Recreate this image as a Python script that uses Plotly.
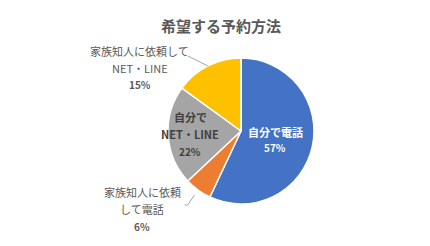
import math
import plotly.graph_objects as go

# ---- data ----
labels = ["自分で電話", "家族知人に依頼して電話", "自分でNET・LINE", "家族知人に依頼してNET・LINE"]
values = [57, 6, 22, 15]
display_lines = [["自分で電話"], ["家族知人に依頼", "して電話"], ["自分で", "NET・LINE"], ["家族知人に依頼して", "NET・LINE"]]
colors = ["#4472C4", "#ED7D31", "#A5A5A5", "#FFC000"]
title_text = "希望する予約方法"

# ---- layout constants (pixels) ----
W, H = 430, 246
CX, CY, R = 241, 131, 73
FONT = "Noto Sans CJK JP, Noto Sans, sans-serif"
GRAY_TXT = "#595959"


def P(px, py):
    return px / W, 1 - py / H


fig = go.Figure()
fig.add_trace(go.Pie(
    labels=labels, values=values, sort=False, direction="clockwise", rotation=0,
    marker=dict(colors=colors, line=dict(color="white", width=1.5)),
    textinfo="none", hoverinfo="label+percent", showlegend=False,
    domain=dict(x=[(CX - R) / W, (CX + R) / W], y=[1 - (CY + R) / H, 1 - (CY - R) / H]),
))

# per-slice label style: (mode, param, dx, dy, text colour, line spacing)
label_style = [
    ("inside", 0.48, 0, 1, "white", 16),
    ("outside", 1.0, -56, 19, GRAY_TXT, 17),
    ("inside", 0.70, 0, 0, "#404040", 17),
    ("outside", 1.0, -68, 2, GRAY_TXT, 17),
]

total = sum(values)
cum = 0
annotations = []
shapes = []
for i, v in enumerate(values):
    mid = (cum + v / 2) / total * 2 * math.pi
    cum += v
    mode, f, dx, dy, col, sp = label_style[i]
    ex, ey = CX + R * f * math.sin(mid), CY - R * f * math.cos(mid)
    bx, by = ex + dx, ey + dy
    pct = f"{round(v / total * 100)}%"
    lines = display_lines[i] + [pct]
    n = len(lines)
    for k, t in enumerate(lines):
        ly = by + (k - (n - 1) / 2) * sp
        is_latin = all(ord(c) < 0x3000 for c in t)
        x, y = P(bx, ly)
        annotations.append(dict(
            x=x, y=y, xref="paper", yref="paper", text=t, showarrow=False,
            xanchor="center", yanchor="middle",
            font=dict(family=FONT, size=10 if is_latin else 11, color=col,
                      weight="bold" if (is_latin or mode == "inside") else "normal"),
        ))
    if mode == "outside":
        if i == 1:
            lx = CX + R * 1.08 * math.sin(mid)
            ly_ = CY - R * 1.08 * math.cos(mid)
            pts = [(lx, ly_), (lx - 7, by - 4), (lx - 10, by - 4)]
        else:
            pts = [(ex, ey), (ex - 20, ey - 10)]
        path = "M " + " L ".join(f"{P(a, b)[0]} {P(a, b)[1]}" for a, b in pts)
        shapes.append(dict(type="path", path=path, xref="paper", yref="paper",
                           line=dict(color="#A6A6A6", width=1)))

fig.update_layout(
    width=W, height=H, margin=dict(l=0, r=0, t=0, b=0),
    paper_bgcolor="white", plot_bgcolor="white",
    title=dict(text=title_text, x=221 / W, y=1 - 27 / H, xanchor="center", yanchor="middle",
               font=dict(family=FONT, size=15, color=GRAY_TXT, weight="bold")),
    annotations=annotations, shapes=shapes,
)

fig.write_html("out.html")
